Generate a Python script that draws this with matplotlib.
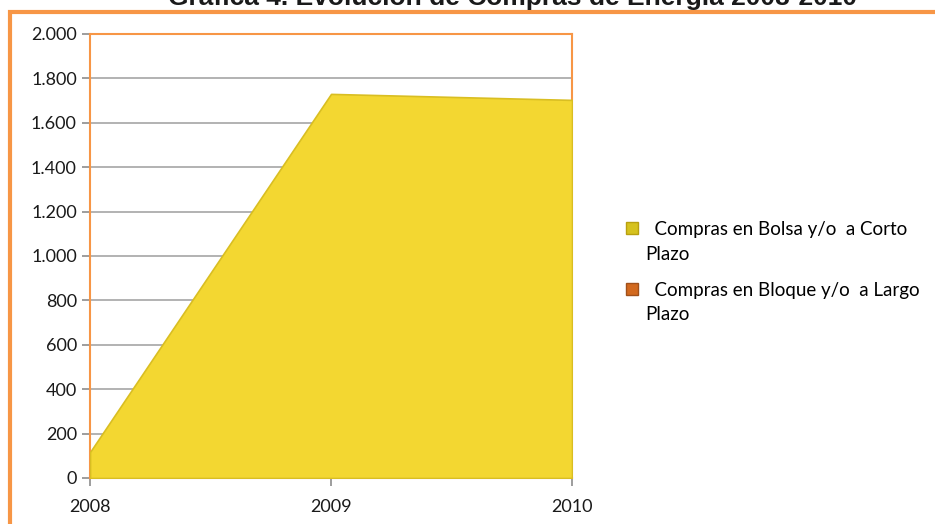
import matplotlib.pyplot as plt
from matplotlib.patches import Rectangle, Patch
from matplotlib.legend_handler import HandlerPatch
from matplotlib.ticker import FuncFormatter

##Data
years = [2008, 2009, 2010]
bolsa = [117, 1730, 1703]
bloque = [0, 0, 0]
labels = ["  Compras en Bolsa y/o  a Corto\nPlazo",
          "  Compras en Bloque y/o  a Largo\nPlazo"]
yticks = [0, 200, 400, 600, 800, 1000, 1200, 1400, 1600, 1800, 2000]

orange = "#F79646"
yellow = "#F3D731"

fig = plt.figure(figsize=(9.35, 5.24), dpi=100)
ax = fig.add_axes([0.0963, 0.0878, 0.5155, 0.8474])

##Areas
ax.fill_between(years, 0, bolsa, color=yellow, edgecolor="#D9BE22", linewidth=1.2, zorder=3)
ax.fill_between(years, bolsa, [b + o for b, o in zip(bolsa, bloque)], color="#E07020", linewidth=0, zorder=2)

ax.set_xlim(years[0], years[-1])
ax.set_ylim(0, 2000)
ax.set_xticks(years)
ax.set_yticks(yticks)
ax.yaxis.set_major_formatter(FuncFormatter(lambda v, p: f"{int(v):,}".replace(",", ".")))
ax.grid(axis="y", color="#A6A6A6", linewidth=1.2, zorder=1)

for s in ax.spines.values():
    s.set_color(orange)
    s.set_linewidth(1.5)
ax.tick_params(axis="both", color="#8C8C8C", length=6, width=1.2, labelsize=13,
               labelcolor="#1A1A1A", labelfontfamily="Lato")
ax.tick_params(axis="x", pad=9)

##Legend, marker sits on the first line of each label
def raised_square(legend, orig_handle, xdescent, ydescent, width, height, fontsize):
    return Rectangle((-xdescent, -ydescent + 0.75 * fontsize), width, height)

handles = [Patch(facecolor="#D6C21E", edgecolor="#B8A010"),
           Patch(facecolor="#D2691E", edgecolor="#A0501A")]
leg = fig.legend(handles, labels, loc="upper left", bbox_to_anchor=(0.652, 0.61),
                 frameon=False, prop={"family": "Lato", "size": 13.5},
                 handlelength=0.6, handleheight=0.6, handletextpad=0.4, labelspacing=1.0,
                 handler_map={Patch: HandlerPatch(patch_func=raised_square)})
for t in leg.get_texts():
    t.set_linespacing(1.55)

##Outer chart frame
fig.patches.append(Rectangle((0.011, -0.1), 1.2, 0.1 + 0.978, transform=fig.transFigure,
                             fill=False, edgecolor=orange, linewidth=3, clip_on=False))

##Title (cut at the top like the original)
fig.text(0.548, 1 - 5 / 524, "Gráfica 4. Evolución de Compras de Energía 2008-2010",
         ha="center", va="baseline", fontsize=19, fontweight="bold",
         family="Liberation Sans", color="#1A1A1A")

plt.savefig("out.png", dpi=100)
